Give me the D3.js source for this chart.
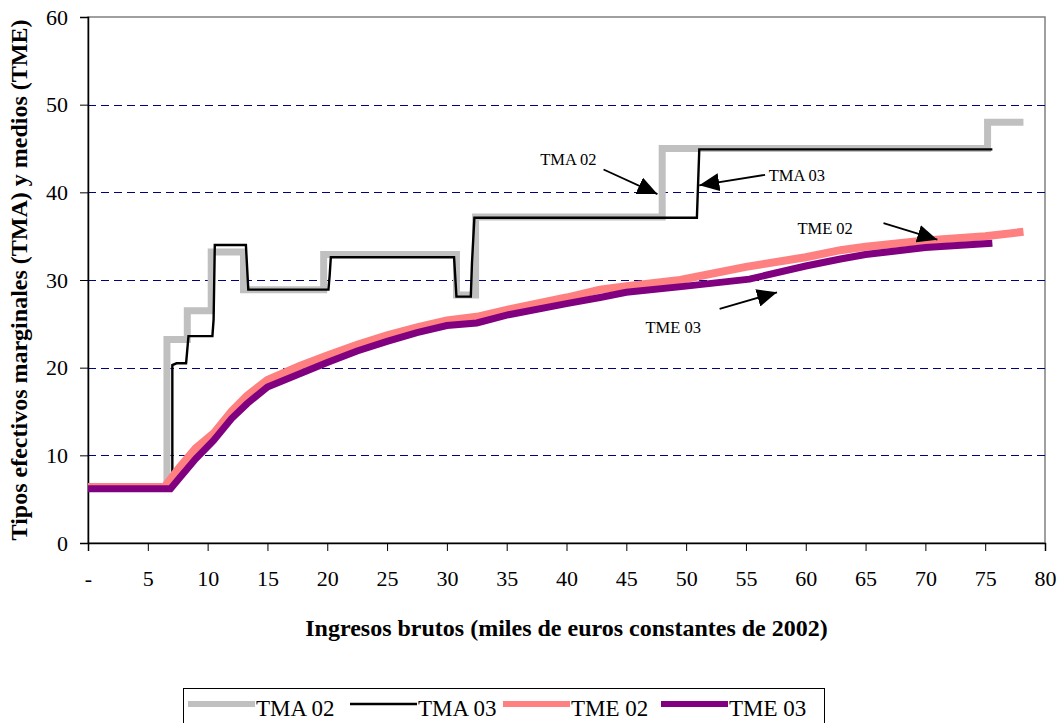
<!DOCTYPE html>
<html>
<head>
<meta charset="utf-8">
<script src="https://cdn.jsdelivr.net/npm/d3@7"></script>
<style>
  html, body { margin: 0; padding: 0; background: #fff; }
  svg text { font-family: "Liberation Serif", "Times New Roman", "DejaVu Serif", serif !important; }
</style>
</head>
<body>
<div id="chart"></div>
<script>
// --- data ---
const xTicks = [0, 5, 10, 15, 20, 25, 30, 35, 40, 45, 50, 55, 60, 65, 70, 75, 80];
const yTicks = [0, 10, 20, 30, 40, 50, 60];

// TMA 02: marginal rate 2002 (step shape)
const tma02X = [0, 6.6, 6.6, 8.3, 8.3, 10.3, 10.3, 13.0, 13.0, 19.7, 19.7, 30.8, 30.8, 32.4, 32.4, 48.0, 48.0, 75.2, 75.2, 78.2];
const tma02Y = [6.3, 6.3, 23.2, 23.2, 26.5, 26.5, 33.2, 33.2, 28.9, 28.9, 32.9, 32.9, 28.3, 28.3, 37.2, 37.2, 45.0, 45.0, 48.0, 48.0];

// TMA 03: marginal rate 2003
const tma03X = [0, 7.05, 7.05, 7.4, 8.2, 8.4, 10.4, 10.5, 10.6, 13.2, 13.4, 20.1, 20.2, 20.3, 30.6, 30.8, 32.0, 32.1, 32.3, 50.9, 51.1, 75.6];
const tma03Y = [6.3, 6.3, 20.3, 20.5, 20.5, 23.6, 23.6, 25.5, 34.0, 34.0, 28.9, 28.9, 30.5, 32.6, 32.6, 28.1, 28.1, 32.0, 37.1, 37.1, 44.9, 44.9];

// TME 02: average rate 2002
const tme02X = [0, 6.4, 7.7, 9, 10.5, 12, 13.3, 15, 17.7, 20, 22.5, 25, 27.5, 30, 32.5, 35, 40, 42.8, 45, 49.5, 55, 60, 62.9, 65, 70, 75, 78.2];
const tme02Y = [6.4, 6.4, 8.7, 10.8, 12.5, 15.0, 16.8, 18.6, 20.2, 21.4, 22.6, 23.7, 24.6, 25.4, 25.8, 26.6, 28.0, 28.9, 29.3, 30.0, 31.5, 32.6, 33.4, 33.8, 34.5, 35.0, 35.5];

// TME 03: average rate 2003
const tme03X = [0, 6.9, 7.7, 9, 10.5, 12, 13.3, 15, 17.7, 20, 22.5, 25, 27.5, 30, 32.5, 35, 40, 42.8, 45, 50, 55.3, 60, 62.9, 65, 70, 75.6];
const tme03Y = [6.2, 6.2, 7.5, 9.6, 11.7, 14.2, 15.9, 17.8, 19.3, 20.6, 21.9, 23.0, 24.0, 24.8, 25.1, 26.0, 27.3, 28.0, 28.6, 29.3, 30.1, 31.6, 32.4, 32.9, 33.7, 34.2];

const seriesNames = ['TMA 02', 'TMA 03', 'TME 02', 'TME 03'];

// callouts: label position and arrow (from -> to), in data units
const callouts = [
  { label: 'TMA 02', tx: 37.8, ty: 43.1, x1: 43.1, y1: 42.6, x2: 47.6, y2: 39.8 },
  { label: 'TMA 03', tx: 56.9, ty: 41.3, x1: 56.6, y1: 42.0, x2: 51.1, y2: 40.8 },
  { label: 'TME 02', tx: 59.3, ty: 35.2, x1: 66.5, y1: 36.5, x2: 71.0, y2: 34.6 },
  { label: 'TME 03', tx: 46.6, ty: 24.0, x1: 52.8, y1: 26.7, x2: 57.6, y2: 28.6 }
];

// --- layout ---
const width = 1062, height = 723;
const margin = { top: 17, right: 17, bottom: 180, left: 88 };
const iw = width - margin.left - margin.right;
const ih = height - margin.top - margin.bottom;

const svg = d3.select('#chart').append('svg')
  .attr('width', width).attr('height', height)
  .attr('font-family', '"Liberation Serif", serif');
const g = svg.append('g').attr('transform', `translate(${margin.left},${margin.top})`);

const x = d3.scaleLinear().domain([0, 80]).range([0, iw]);
const y = d3.scaleLinear().domain([0, 60]).range([ih, 0]);

// plot frame (gray)
g.append('rect').attr('x', 0).attr('y', 0).attr('width', iw).attr('height', ih)
  .attr('fill', 'none').attr('stroke', '#808080').attr('stroke-width', 1.5);

// dashed gridlines
g.append('g').selectAll('line').data(yTicks.filter(d => d > 0 && d < 60)).enter().append('line')
  .attr('x1', 0).attr('x2', iw)
  .attr('y1', d => Math.round(y(d)) + 0.5).attr('y2', d => Math.round(y(d)) + 0.5)
  .attr('stroke', '#000080').attr('stroke-width', 1).attr('stroke-dasharray', '8,5');

// axes
const xAxis = g.append('g').attr('transform', `translate(0,${ih})`)
  .call(d3.axisBottom(x).tickValues(xTicks).tickSize(8).tickPadding(19)
    .tickFormat(d => d === 0 ? '-' : d));
const yAxis = g.append('g')
  .call(d3.axisLeft(y).tickValues(yTicks).tickSize(8).tickPadding(12));
[xAxis, yAxis].forEach(a => {
  a.attr('font-family', null).attr('font-size', null);
  a.select('.domain').attr('stroke', '#000').attr('stroke-width', 1.5);
  a.selectAll('.tick line').attr('stroke', '#000');
  a.selectAll('text').attr('fill', '#000').style('font-size', '22px');
});

// lines
const line = d3.line().x(d => x(d[0])).y(d => y(d[1]));
const zip = (xs, ys) => xs.map((v, i) => [v, ys[i]]);
const series = [
  { name: 'TMA 02', pts: zip(tma02X, tma02Y), color: '#C0C0C0', w: 7 },
  { name: 'TMA 03', pts: zip(tma03X, tma03Y), color: '#000000', w: 2.4 },
  { name: 'TME 02', pts: zip(tme02X, tme02Y), color: '#FF8080', w: 8 },
  { name: 'TME 03', pts: zip(tme03X, tme03Y), color: '#800080', w: 7 }
];
g.selectAll('path.series').data(series).enter().append('path')
  .attr('class', 'series')
  .attr('fill', 'none')
  .attr('stroke', d => d.color)
  .attr('stroke-width', d => d.w)
  .attr('d', d => line(d.pts));

// arrow callouts
svg.append('defs').append('marker')
  .attr('id', 'head').attr('markerUnits', 'userSpaceOnUse')
  .attr('viewBox', '0 0 20 18').attr('refX', 20).attr('refY', 9)
  .attr('markerWidth', 20).attr('markerHeight', 18).attr('orient', 'auto')
  .append('path').attr('d', 'M0,0 L20,9 L0,18 Z').attr('fill', '#000');

const cg = g.append('g');
cg.selectAll('line').data(callouts).enter().append('line')
  .attr('x1', d => x(d.x1)).attr('y1', d => y(d.y1))
  .attr('x2', d => x(d.x2)).attr('y2', d => y(d.y2))
  .attr('stroke', '#000').attr('stroke-width', 1.8)
  .attr('marker-end', 'url(#head)');
cg.selectAll('text').data(callouts).enter().append('text')
  .attr('x', d => x(d.tx)).attr('y', d => y(d.ty))
  .style('font-size', '16.5px').attr('fill', '#000')
  .text(d => d.label);

// axis titles
svg.append('text')
  .attr('transform', `translate(27,${margin.top + ih / 2}) rotate(-90)`)
  .attr('text-anchor', 'middle')
  .style('font-size', '24px').style('font-weight', 'bold')
  .text('Tipos efectivos marginales (TMA) y medios (TME)');
svg.append('text')
  .attr('x', margin.left + iw / 2).attr('y', 636)
  .attr('text-anchor', 'middle')
  .style('font-size', '24px').style('font-weight', 'bold')
  .text('Ingresos brutos (miles de euros constantes de 2002)');

// legend
const legend = svg.append('g');
legend.append('rect').attr('x', 183.5).attr('y', 688.5).attr('width', 641).attr('height', 50)
  .attr('fill', '#fff').attr('stroke', '#000').attr('stroke-width', 1);
const itemX = [188, 350, 503, 661];
series.forEach((s, i) => {
  const it = legend.append('g').attr('transform', `translate(${itemX[i]},704)`);
  it.append('line').attr('x1', 0).attr('x2', 67).attr('y1', 0).attr('y2', 0)
    .attr('stroke', s.color).attr('stroke-width', Math.min(s.w, 6));
  it.append('text').attr('x', 68).attr('y', 12)
    .style('font-size', '23px').text(seriesNames[i]);
});
</script>
</body>
</html>
